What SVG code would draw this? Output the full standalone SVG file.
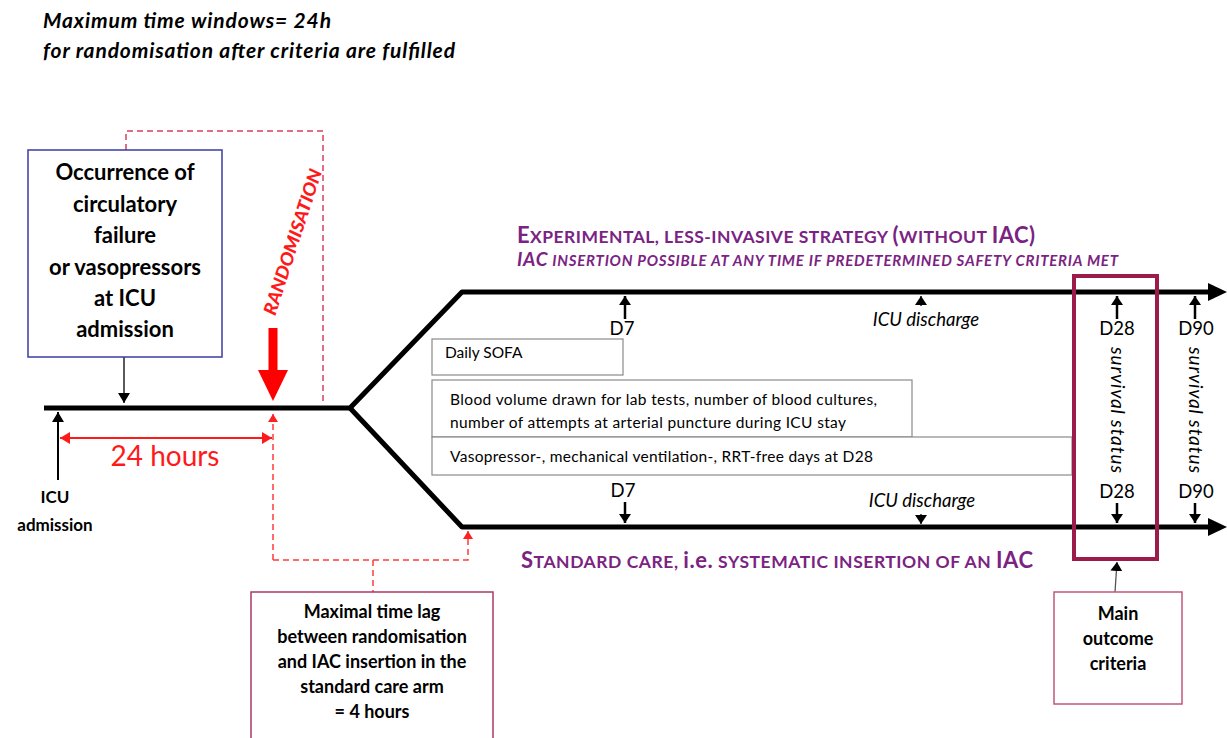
<svg xmlns="http://www.w3.org/2000/svg" width="1227" height="738" viewBox="0 0 1227 738">
<defs>
<marker id="ah" markerUnits="userSpaceOnUse" markerWidth="12" markerHeight="12" refX="10" refY="6" orient="auto"><path d="M0,0 L10,6 L0,12 z" fill="#000"/></marker>
<marker id="ahs" markerUnits="userSpaceOnUse" markerWidth="11" markerHeight="12" refX="9" refY="6" orient="auto"><path d="M0,0 L9,6 L0,12 z" fill="#000"/></marker>
<marker id="rah" markerUnits="userSpaceOnUse" markerWidth="12" markerHeight="12" refX="10" refY="6" orient="auto-start-reverse"><path d="M0,0 L10,6 L0,12 z" fill="#ff1a1a"/></marker>
<marker id="rahs" markerUnits="userSpaceOnUse" markerWidth="10" markerHeight="10" refX="8" refY="5" orient="auto"><path d="M0,0 L8,5 L0,10 z" fill="#ff2020"/></marker>
</defs>
<style>
.t{font-family:Lato,"Liberation Sans",sans-serif;fill:#000}
.b{font-weight:bold}
.i{font-style:italic}
.c{text-anchor:middle}
.thick{stroke:#000;stroke-width:5;fill:none;stroke-linejoin:round}
.sm{stroke:#000;stroke-width:2.5;fill:none}
.box{fill:#fff;stroke:#8a8a8a;stroke-width:1.2}
.pur{fill:#7b2382;font-weight:bold}
.rd{stroke:#ff3b3b;stroke-width:1.5;stroke-dasharray:6 4;fill:none}
.lbl{font-size:18.5px}
.bx{font-size:15.5px}
</style>
<rect width="1227" height="738" fill="#fff"/>

<g id="title">
<text x="43" y="28" class="t b i" font-size="21" textLength="288">Maximum time windows= 24h</text>
<text x="43" y="58" class="t b i" font-size="21" textLength="412">for randomisation after criteria are fulfilled</text>
</g>

<g id="connectors">
<path class="thick" d="M44,408 L350,408 L462,292 L1212,292"/>
<path class="thick" d="M350,408 L462,527 L1212,527"/>
<polygon points="1208,283 1227,292 1208,301" fill="#000"/>
<polygon points="1208,518 1227,527 1208,536" fill="#000"/>
<line x1="124" y1="357" x2="124" y2="403" stroke="#000" stroke-width="1.3" marker-end="url(#ah)"/>
<line x1="58" y1="480" x2="58" y2="412" stroke="#000" stroke-width="2" marker-end="url(#ah)"/>
<line x1="60" y1="438" x2="272" y2="438" stroke="#ff1a1a" stroke-width="1.8" marker-start="url(#rah)" marker-end="url(#rah)"/>
<path d="M126,150 L126,131 L323,131 L323,405" stroke="#d8405c" stroke-width="1.5" stroke-dasharray="6 4" fill="none"/>
<path class="rd" d="M273,560 L273,414" marker-end="url(#rahs)"/>
<path class="rd" d="M273,560 L468,560 L468,531" marker-end="url(#rahs)"/>
<path class="rd" d="M373,560 L373,592"/>
<rect x="268.5" y="328" width="9" height="43" fill="#ff0000"/>
<polygon points="258,370 288,370 273,401" fill="#ff0000"/>
<line x1="625" y1="319" x2="625" y2="296" class="sm" marker-end="url(#ahs)"/>
<line x1="921" y1="306" x2="921" y2="296" stroke="#000" stroke-width="1.3" marker-end="url(#ahs)"/>
<line x1="1117" y1="319" x2="1117" y2="296" class="sm" marker-end="url(#ahs)"/>
<line x1="1195" y1="319" x2="1195" y2="296" class="sm" marker-end="url(#ahs)"/>
<line x1="625" y1="502" x2="625" y2="523" class="sm" marker-end="url(#ahs)"/>
<line x1="921" y1="514" x2="921" y2="524" stroke="#000" stroke-width="1.3" marker-end="url(#ahs)"/>
<line x1="1117" y1="503" x2="1117" y2="523" class="sm" marker-end="url(#ahs)"/>
<line x1="1195" y1="503" x2="1195" y2="523" class="sm" marker-end="url(#ahs)"/>
<line x1="1115" y1="592" x2="1117" y2="562" stroke="#555" stroke-width="1.3" marker-end="url(#ahs)"/>
</g>

<g id="occurrence">
<rect x="28" y="150" width="194" height="207" fill="#fff" stroke="#3b3ba6" stroke-width="1.5"/>
<text class="t b c" font-size="22" x="125"><tspan x="125" y="180">Occurrence of</tspan><tspan x="125" y="212">circulatory</tspan><tspan x="125" y="243">failure</tspan><tspan x="125" y="275">or vasopressors</tspan><tspan x="125" y="306">at ICU</tspan><tspan x="125" y="337">admission</tspan></text>
</g>

<g id="icu-admission">
<text class="t b c" font-size="17" x="55"><tspan x="55" y="503">ICU</tspan><tspan x="55" y="531">admission</tspan></text>
</g>

<g id="hours24">
<text x="165" y="466" class="t c" font-size="28" style="fill:#ff1a1a">24 hours</text>
</g>

<g id="randomisation">
<text transform="translate(293,242) rotate(-72)" dy="6" class="t i c" font-size="18" font-weight="900" style="fill:#ff1a1a" textLength="152" lengthAdjust="spacingAndGlyphs">RANDOMISATION</text>
</g>

<g id="experimental">
<text x="517" y="243" class="t pur" font-size="17.5" textLength="518" style="fill:#7b2382"><tspan font-size="22">E</tspan>XPERIMENTAL, LESS-INVASIVE STRATEGY <tspan font-size="22">(</tspan>WITHOUT <tspan font-size="22">IAC)</tspan></text>
<text x="517" y="266" class="t pur i" font-size="15" textLength="601" style="fill:#7b2382"><tspan font-size="19">IAC</tspan> INSERTION POSSIBLE AT ANY TIME IF PREDETERMINED SAFETY CRITERIA MET</text>
</g>

<g id="standard">
<text x="521" y="568" class="t pur" font-size="17.5" textLength="512" style="fill:#7b2382"><tspan font-size="22">S</tspan>TANDARD CARE, <tspan font-size="22">i.e.</tspan> SYSTEMATIC INSERTION OF AN <tspan font-size="22">IAC</tspan></text>
</g>

<g id="timepoints">
<text class="t c lbl" x="622" y="335">D7</text>
<text class="t c i lbl" x="926" y="326">ICU discharge</text>
<text class="t c lbl" x="1117" y="335">D28</text>
<text class="t c lbl" x="1196" y="335">D90</text>
<text class="t c lbl" x="623" y="497">D7</text>
<text class="t c i lbl" x="922" y="507">ICU discharge</text>
<text class="t c lbl" x="1117" y="498">D28</text>
<text class="t c lbl" x="1196" y="498">D90</text>
<text transform="translate(1111,410) rotate(90)" class="t c i" font-size="19" textLength="126">survival status</text>
<text transform="translate(1189,410) rotate(90)" class="t c i" font-size="19" textLength="126">survival status</text>
</g>

<g id="daily-sofa">
<rect class="box" x="432" y="339" width="191" height="36"/>
<text class="t bx" x="445" y="358">Daily SOFA</text>
</g>
<g id="blood-volume">
<rect class="box" x="432" y="380" width="480" height="57"/>
<text class="t bx" x="450"><tspan x="450" y="405" textLength="427">Blood volume drawn for lab tests, number of blood cultures,</tspan><tspan x="450" y="428" textLength="396">number of attempts at arterial puncture during ICU stay</tspan></text>
</g>
<g id="vasopressor">
<rect class="box" x="432" y="437" width="640" height="38"/>
<text class="t bx" x="450" y="462" textLength="423">Vasopressor-, mechanical ventilation-, RRT-free days at D28</text>
</g>

<g id="outcome-frame">
<rect x="1074" y="276" width="83" height="283" fill="none" stroke="#9b1b4b" stroke-width="4"/>
</g>

<g id="main-outcome">
<rect x="1054" y="592" width="128" height="112" fill="#fff" stroke="#c2577a" stroke-width="1.5"/>
<text class="t b c" font-size="18" x="1118"><tspan x="1118" y="620">Main</tspan><tspan x="1118" y="645">outcome</tspan><tspan x="1118" y="670">criteria</tspan></text>
</g>

<g id="time-lag">
<rect x="251" y="592" width="242" height="150" fill="#fff" stroke="#a83a6a" stroke-width="1.5"/>
<text class="t b c" font-size="18" x="372"><tspan x="372" y="618">Maximal time lag</tspan><tspan x="372" y="643">between randomisation</tspan><tspan x="372" y="668">and IAC insertion in the</tspan><tspan x="372" y="693">standard care arm</tspan><tspan x="372" y="718">= 4 hours</tspan></text>
</g>
</svg>
